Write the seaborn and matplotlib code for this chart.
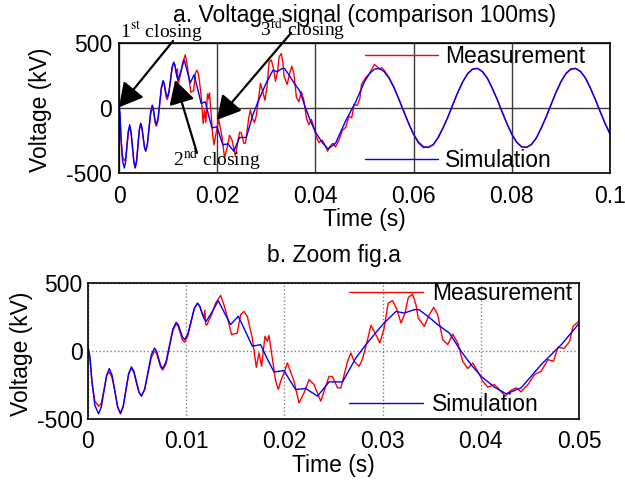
import numpy as np
import pandas as pd
import matplotlib
matplotlib.use("Agg")
import matplotlib.pyplot as plt
import seaborn as sns

# ---------------- data ----------------
sim_t = [0.0, 0.0002, 0.0004, 0.0007, 0.00108, 0.00135, 0.00163, 0.0019, 0.00217,
         0.00245, 0.00274, 0.00302, 0.0033, 0.00358, 0.00386, 0.00414, 0.00442,
         0.00467, 0.00493, 0.00519, 0.00544, 0.00577, 0.0061, 0.00644, 0.00677,
         0.00698, 0.00719, 0.0074, 0.00761, 0.00795, 0.0083, 0.00864, 0.00898,
         0.00919, 0.0094, 0.00962, 0.00983, 0.01016, 0.01049, 0.01082, 0.01115,
         0.01137, 0.0116, 0.01182, 0.01204, 0.01265, 0.01327, 0.0139, 0.01452,
         0.0153, 0.016, 0.01673, 0.01758, 0.0182, 0.01894, 0.01996, 0.02055,
         0.02115, 0.02217, 0.02337, 0.02455, 0.02592, 0.02728, 0.0283, 0.03,
         0.03136, 0.0322, 0.03322, 0.0337, 0.0347, 0.03561, 0.0368, 0.038,
         0.039, 0.04003, 0.04139, 0.04258, 0.04411, 0.04615, 0.0482, 0.05,
         0.051, 0.052, 0.053, 0.054, 0.055, 0.056, 0.057, 0.058, 0.059, 0.060,
         0.061, 0.062, 0.063, 0.064, 0.065, 0.066, 0.067, 0.068, 0.069, 0.070,
         0.071, 0.072, 0.073, 0.074, 0.075, 0.076, 0.077, 0.078, 0.079, 0.080,
         0.081, 0.082, 0.083, 0.084, 0.085, 0.086, 0.087, 0.088, 0.089, 0.090,
         0.091, 0.092, 0.093, 0.094, 0.095, 0.096, 0.097, 0.098, 0.099, 0.100]
sim_v = [30, -40, -222, -400, -462, -413, -295, -178, -129,
         -178, -295, -413, -462, -412, -290, -167, -117,
         -148, -225, -301, -332, -280, -155, -30, 22,
         0, -53, -107, -129, -79, 41, 161, 211,
         192, 148, 103, 84, 123, 218, 313, 352,
         332, 285, 238, 218, 290, 370, 280, 194,
         255, 150, 35, 47, -50, -154, -144, -215,
         -283, -276, -332, -227, -227, -51, 47, 194,
         291, 279, 304, 304, 250, 194, 132, -2,
         -100, -186, -266, -315, -271, -100, 47, 202,
         263, 298, 304, 280, 229, 155, 67, -29, -121, -202,
         -263, -298, -304, -280, -229, -155, -67, 29, 121, 202,
         263, 298, 304, 280, 229, 155, 67, -29, -121, -202,
         -263, -298, -304, -280, -229, -155, -67, 29, 121, 202,
         263, 298, 304, 280, 229, 155, 67, -29, -121, -202]

meas_t = [0.0, 0.0002, 0.0004, 0.0007, 0.00108, 0.0012, 0.00135, 0.00163, 0.0019,
          0.00217, 0.00245, 0.00274, 0.00302, 0.0033, 0.00358, 0.00386, 0.00414,
          0.00442, 0.00467, 0.00493, 0.00519, 0.00544, 0.00577, 0.0061, 0.00644,
          0.00677, 0.00698, 0.00719, 0.0074, 0.00761, 0.00795, 0.0083, 0.00864,
          0.00898, 0.00919, 0.0094, 0.00962, 0.00983, 0.01016, 0.01049, 0.01082,
          0.01115, 0.01137, 0.0116, 0.0118, 0.0119, 0.01197, 0.0121, 0.01265,
          0.01299, 0.0135, 0.01384, 0.01408, 0.01462, 0.0152, 0.01554, 0.01588,
          0.01622, 0.01673, 0.01714, 0.01741, 0.01768, 0.01802, 0.01826, 0.01843,
          0.01877, 0.01911, 0.01938, 0.01962, 0.01996, 0.0203, 0.02064, 0.02098,
          0.02149, 0.022, 0.02251, 0.02302, 0.0237, 0.02455, 0.0249, 0.02541,
          0.02575, 0.02643, 0.02677, 0.0271, 0.02761, 0.02795, 0.02847, 0.02881,
          0.02932, 0.02972, 0.03016, 0.03057, 0.03102, 0.03146, 0.03187, 0.03228,
          0.03262, 0.03306, 0.0334, 0.03363, 0.03425, 0.03476, 0.0352, 0.03561,
          0.03612, 0.03663, 0.03714, 0.03765, 0.03816, 0.03867, 0.03918, 0.03969,
          0.0402, 0.04071, 0.04139, 0.0419, 0.04248, 0.04305, 0.0436, 0.0441,
          0.0448, 0.04547, 0.04615, 0.04684, 0.0474, 0.04786, 0.0485, 0.04905,
          0.04939, 0.05006, 0.0505, 0.051, 0.0515, 0.052, 0.0525, 0.053, 0.0535,
          0.054, 0.055, 0.056, 0.057, 0.058, 0.059, 0.060, 0.061, 0.062, 0.063,
          0.064, 0.065, 0.066, 0.067, 0.068, 0.069, 0.070, 0.071, 0.072, 0.073,
          0.074, 0.075, 0.076, 0.077, 0.078, 0.079, 0.080, 0.081, 0.082, 0.083,
          0.084, 0.085, 0.086, 0.087, 0.088, 0.089, 0.090, 0.091, 0.092, 0.093,
          0.094, 0.095, 0.096, 0.097, 0.098, 0.099, 0.100]
meas_v = [-10, -60, -230, -370, -405, -400, -385, -285, -180,
          -155, -195, -300, -410, -455, -405, -285, -170,
          -125, -160, -235, -305, -330, -285, -170, -50,
          0, -15, -70, -120, -140, -95, 30, 150,
          200, 180, 130, 80, 65, 110, 210, 310,
          350, 330, 280, 240, 300, 200, 190, 279,
          352, 409, 340, 279, 120, 132, 267, 291,
          255, 95, -120, -15, -112, 108, 71, 115,
          -51, -222, -283, -222, -161, -88, -154, -222,
          -382, -308, -210, -247, -369, -186, -190, -271,
          -271, -76, -15, -76, -112, -60, 84, 189,
          120, 59, 169, 352, 370, 304, 206, 279,
          394, 418, 340, 242, 181, 267, 321, 267,
          84, 47, 125, 59, -76, -129, -88, -149,
          -222, -266, -247, -283, -332, -290, -271, -300,
          -247, -173, -149, -63, -76, 27, 20, 71,
          181, 223, 245, 265, 300, 335, 320, 300, 310,
          290, 235, 160, 70, -25, -118, -205, -270, -305, -300,
          -285, -225, -150, -70, 25, 118, 200, 265, 300, 305,
          282, 232, 152, 70, -25, -118, -200, -265, -300, -302,
          -282, -232, -152, -70, 25, 118, 200, 265, 300, 305,
          282, 232, 152, 65, -25, -118, -195]

top_xticks = [0, 0.02, 0.04, 0.06, 0.08, 0.1]
top_xticklabels = ["0", "0.02", "0.04", "0.06", "0.08", "0.1"]
bot_xticks = [0, 0.01, 0.02, 0.03, 0.04, 0.05]
bot_xticklabels = ["0", "0.01", "0.02", "0.03", "0.04", "0.05"]
yticks = [-500, 0, 500]
yticklabels = ["-500", "0", "500"]

top_title = "a. Voltage signal (comparison 100ms)"
bot_title = "b. Zoom fig.a"
xlabel = "Time (s)"
ylabel = "Voltage (kV)"

# ---------------- style ----------------
sns.set_style("white")
plt.rcParams["font.family"] = ["Liberation Sans", "DejaVu Sans"]
plt.rcParams["axes.unicode_minus"] = False
plt.rcParams["mathtext.fontset"] = "stix"
plt.rcParams["text.color"] = "black"
plt.rcParams["axes.labelcolor"] = "black"
plt.rcParams["xtick.color"] = "black"
plt.rcParams["ytick.color"] = "black"

FS = 16.5
RED = "#ff0000"
BLUE = "#0000ff"

fig = plt.figure(figsize=(6.25, 4.84), dpi=100)
ax1 = fig.add_axes([0.1904, 0.6426, 0.7856, 0.2686])
ax2 = fig.add_axes([0.1408, 0.1343, 0.7856, 0.2810])

df_meas = pd.DataFrame({"Time": meas_t, "Voltage": meas_v})
df_sim = pd.DataFrame({"Time": sim_t, "Voltage": sim_v})

for ax in (ax1, ax2):
    sns.lineplot(data=df_meas, x="Time", y="Voltage", color=RED, lw=1.0,
                 estimator=None, sort=False, ax=ax, label="Measurement")
    sns.lineplot(data=df_sim, x="Time", y="Voltage", color=BLUE, lw=1.0,
                 estimator=None, sort=False, ax=ax, label="Simulation")
    ax.set_ylim(-500, 500)
    ax.set_yticks(yticks)
    ax.set_yticklabels(yticklabels)
    ax.set_xlabel(xlabel, fontsize=FS, color="black")
    ax.set_ylabel(ylabel, fontsize=FS, color="black")
    ax.tick_params(axis="both", labelsize=FS, length=0, labelcolor="black")
    for s in ax.spines.values():
        s.set_color("black")
        s.set_linewidth(1.2)

# top axes
ax1.set_xlim(0, 0.1)
ax1.set_xticks(top_xticks)
ax1.set_xticklabels(top_xticklabels)
ax1.grid(True, color="#3a3a3a", lw=1.0, ls="-")
ax1.tick_params(axis="x", pad=9)
ax1.tick_params(axis="y", pad=5)
ax1.set_title(top_title, fontsize=FS, pad=15, color="black")
ax1.yaxis.set_label_coords(-0.136, 0.485)
ax1.xaxis.set_label_coords(0.5, -0.27)

# bottom axes
ax2.set_xlim(0, 0.05)
ax2.set_xticks(bot_xticks)
ax2.set_xticklabels(bot_xticklabels)
ax2.grid(True, color="#808080", lw=1.0, ls=":")
ax2.tick_params(axis="x", pad=8)
ax2.tick_params(axis="y", pad=4)
ax2.set_title(bot_title, fontsize=FS, pad=15, color="black")
ax2.yaxis.set_label_coords(-0.112, 0.48)
ax2.xaxis.set_label_coords(0.5, -0.26)

# legends
ax1.legend(loc="upper left", bbox_to_anchor=(0.501, 0.985), frameon=False,
           fontsize=FS, handlelength=3.2, handletextpad=0.3, labelspacing=3.54,
           borderpad=0, borderaxespad=0, labelcolor="black")
ax2.legend(loc="upper left", bbox_to_anchor=(0.532, 1.007), frameon=False,
           fontsize=FS, handlelength=3.2, handletextpad=0.42, labelspacing=3.83,
           borderpad=0, borderaxespad=0, labelcolor="black")

# annotations on the top axes
serif = ["Liberation Serif", "DejaVu Serif"]
W, H = 625.0, 484.0
fig.text(120 / W, 1 - 37 / H, r"1$^{\mathrm{st}}$ closing", family=serif,
         fontsize=14, va="baseline", ha="left", color="black")
fig.text(173 / W, 1 - 166 / H, r"2$^{\mathrm{nd}}$ closing", family=serif,
         fontsize=14, va="baseline", ha="left", color="black")
fig.text(260 / W, 1 - 36 / H, r"3$^{\mathrm{rd}}$ closing", family=serif,
         fontsize=14, va="baseline", ha="left", color="black")

arrow = dict(arrowstyle="-|>,head_length=0.4,head_width=0.22", color="black",
             lw=1.6, mutation_scale=36, shrinkA=0, shrinkB=0)
ax1.annotate("", xy=(0.0, 5), xycoords="data",
             xytext=(173 / W, 1 - 41 / H), textcoords="figure fraction",
             arrowprops=arrow, annotation_clip=False)
ax1.annotate("", xy=(0.01143, 215), xycoords="data",
             xytext=(197 / W, 1 - 153 / H), textcoords="figure fraction",
             arrowprops=arrow, annotation_clip=False)
ax1.annotate("", xy=(0.01994, -92), xycoords="data",
             xytext=(291 / W, 1 - 33 / H), textcoords="figure fraction",
             arrowprops=arrow, annotation_clip=False)

fig.savefig("out.png", dpi=100)
